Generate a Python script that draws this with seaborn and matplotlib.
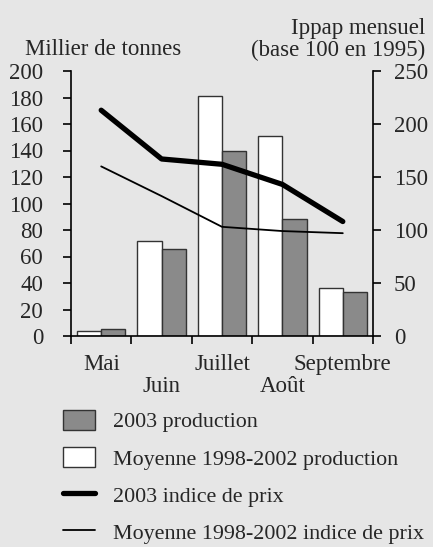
import numpy as np
import pandas as pd
import matplotlib
matplotlib.use("Agg")
import matplotlib.pyplot as plt
import seaborn as sns
from matplotlib.patches import Patch
from matplotlib.lines import Line2D

months = ["Mai", "Juin", "Juillet", "Août", "Septembre"]
prod_moyenne = [4, 72, 181, 151, 36]
prod_2003 = [5, 66, 140, 88, 33]
prix_2003 = [213, 167, 162, 143, 108]
prix_moyenne = [160, 132, 103, 99, 97]

s_moy = "Moyenne 1998-2002 production"
s_2003 = "2003 production"
l_2003 = "2003 indice de prix"
l_moy = "Moyenne 1998-2002 indice de prix"

sns.set_theme(style="white")
bg = "#e6e6e6"
plt.rcParams["font.family"] = ["Liberation Serif", "DejaVu Serif"]
fs = 16.5
plt.rcParams["font.size"] = fs

fig = plt.figure(figsize=(4.33, 5.47), dpi=100, facecolor=bg)
ax = fig.add_axes([71/433, 1-336/547, (373-71)/433, (336-71)/547])
ax.set_facecolor(bg)

df = pd.DataFrame({
    "mois": months * 2,
    "valeur": prod_moyenne + prod_2003,
    "serie": [s_moy] * len(months) + [s_2003] * len(months),
})
sns.barplot(data=df, x="mois", y="valeur", hue="serie", order=months,
            hue_order=[s_moy, s_2003], palette=["white", "#8a8a8a"],
            width=0.8, edgecolor="#333333", linewidth=1.0, ax=ax,
            legend=False, saturation=1)

ax.set_xlim(-0.5, len(months) - 0.5)
ax.set_ylim(0, 200)
ax.set_yticks(np.arange(0, 201, 20))
ax.set_xlabel("")
ax.set_ylabel("")
# Even months as tick labels, odd months on a second, lower row
ax.set_xticks(range(0, len(months), 2))
ax.set_xticklabels(months[0::2], fontsize=fs)
for i in range(1, len(months), 2):
    ax.annotate(months[i], xy=(i, 0), xycoords=("data", "axes fraction"),
                xytext=(0, -29), textcoords="offset points",
                ha="center", va="top", fontsize=fs)
ax.set_xticks(np.arange(-0.5, len(months), 1), minor=True)
ax.tick_params(axis="x", which="major", length=0, pad=13)
ax.tick_params(axis="x", which="minor", length=6, width=1.2, direction="out", color="black", bottom=True)
ax.tick_params(axis="y", length=6, width=1.2, direction="out", color="black", left=True, pad=14, labelsize=fs)
for sp in ["top", "right"]:
    ax.spines[sp].set_visible(False)
for sp in ["left", "bottom"]:
    ax.spines[sp].set_color("black")
    ax.spines[sp].set_linewidth(1.2)

ax2 = ax.twinx()
xpos = np.arange(len(months))
sns.lineplot(x=xpos, y=prix_2003, color="black", linewidth=3.8, ax=ax2)
sns.lineplot(x=xpos, y=prix_moyenne, color="black", linewidth=1.3, ax=ax2)
ax2.set_ylim(0, 250)
ax2.set_yticks(np.arange(0, 251, 50))
ax2.tick_params(axis="y", length=6, width=1.2, direction="out", color="black", right=True, pad=9, labelsize=fs)
for sp in ["top", "left", "bottom"]:
    ax2.spines[sp].set_visible(False)
ax2.spines["right"].set_color("black")
ax2.spines["right"].set_linewidth(1.2)
ax2.set_xlim(-0.5, len(months) - 0.5)

fig.text(25/433, 1-55/547, "Millier de tonnes", fontsize=fs, ha="left", va="baseline")
fig.text(425/433, 1-56/547, "Ippap mensuel\n(base 100 en 1995)", fontsize=fs,
         ha="right", va="baseline", multialignment="right", linespacing=1.05)

handles = [
    Patch(facecolor="#8a8a8a", edgecolor="#333333", linewidth=1.0),
    Patch(facecolor="white", edgecolor="#333333", linewidth=1.0),
    Line2D([0], [0], color="black", linewidth=3.8),
    Line2D([0], [0], color="black", linewidth=1.3),
]
fig.legend(handles, [s_2003, s_moy, l_2003, l_moy], loc="upper left",
           bbox_to_anchor=(63/433, 1-410/547), frameon=False, fontsize=15.8,
           handlelength=1.45, handleheight=1.0, labelspacing=0.68, handletextpad=0.85,
           borderaxespad=0, borderpad=0)

fig.savefig("out.png", dpi=100, facecolor=bg)
